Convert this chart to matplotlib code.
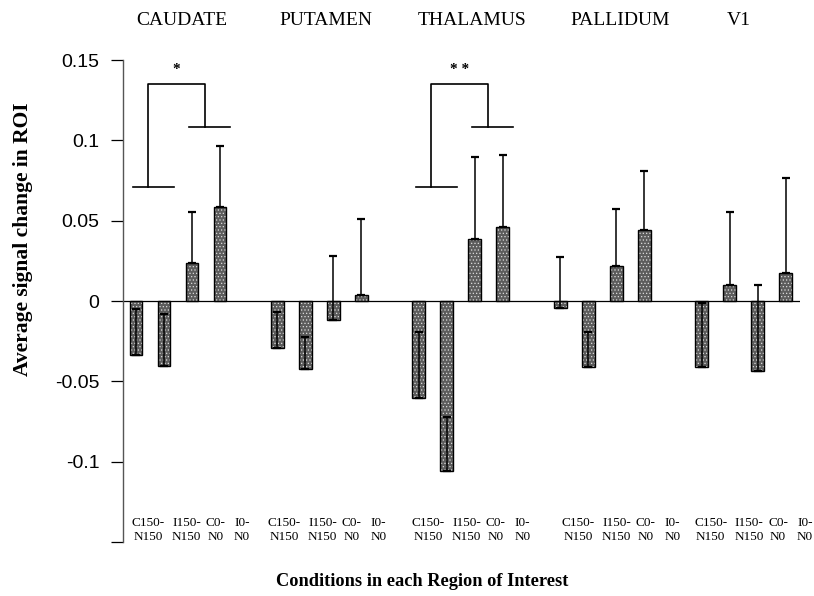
import numpy as np
import matplotlib
matplotlib.use('Agg')
import matplotlib.pyplot as plt
import matplotlib.transforms as mtransforms

# values (mean signal change, one-sided SE shown upward)
regions = ['CAUDATE', 'PUTAMEN', 'THALAMUS', 'PALLIDUM', 'V1']
conditions = ['C150-\nN150', 'I150-\nN150', 'C0-\nN0', 'I0-\nN0']

caudateMean  = [-0.0336, -0.0402, 0.0238, 0.0588]
putamenMean  = [-0.0293, -0.0423, -0.0120, 0.0037]
thalamusMean = [-0.0602, -0.1057, 0.0386, 0.0458]
pallidumMean = [-0.0041, -0.0408, 0.0221, 0.0440]
v1Mean       = [-0.0413, 0.0099, -0.0437, 0.0176]

caudateErr  = [0.0285, 0.0320, 0.0319, 0.0378]
putamenErr  = [0.0227, 0.0200, 0.0403, 0.0473]
thalamusErr = [0.0412, 0.0335, 0.0508, 0.0450]
pallidumErr = [0.0316, 0.0212, 0.0353, 0.0369]
v1Err       = [0.0400, 0.0452, 0.0536, 0.0588]

# significance brackets: region index, low arm, high arm, top, label
sigRegions = [0, 2]
sigLabels  = ['*', '* *']
sigLow, sigHigh, sigTop = 0.071, 0.108, 0.135

yTicks = [-0.15, -0.1, -0.05, 0, 0.05, 0.1, 0.15]
yTickLabels = ['', '-0.1', '-0.05', '0', '0.05', '0.1', '0.15']

allMeans = [caudateMean, putamenMean, thalamusMean, pallidumMean, v1Mean]
allErrs  = [caudateErr, putamenErr, thalamusErr, pallidumErr, v1Err]

serif = 'Liberation Serif'
sans = 'Liberation Sans'
plt.rcParams['hatch.linewidth'] = 0.5

fig = plt.figure(figsize=(8.14, 5.96), dpi=100)
ax = fig.add_axes([0.1511, 0.0906, 0.8317, 0.8087])

groupStep = 5.05
groupBase = np.arange(len(regions)) * groupStep
slot = np.arange(len(conditions))

for g, (means, errs) in enumerate(zip(allMeans, allErrs)):
    xPos = groupBase[g] + slot
    # stippled fill (light dots on dark grey), then a black outline on top
    ax.bar(xPos, means, width=0.46, color='#5c5c5c', edgecolor='#dcdcdc',
           hatch='.....', linewidth=0, zorder=2)
    ax.bar(xPos, means, width=0.46, color='none', edgecolor='black',
           linewidth=1.0, zorder=2.5)
    ax.errorbar(xPos, means, yerr=[np.zeros(len(errs)), errs], fmt='none',
                ecolor='black', elinewidth=1.1, capsize=3, capthick=1.6, zorder=3)

ax.axhline(0, color='black', lw=0.9, zorder=1)

# brackets over the significant comparisons
for g, lab in zip(sigRegions, sigLabels):
    b = groupBase[g]
    ax.plot([b - 0.11, b + 1.36], [sigLow, sigLow], color='black', lw=1.2)
    ax.plot([b + 1.9, b + 3.36], [sigHigh, sigHigh], color='black', lw=1.2)
    ax.plot([b + 0.44, b + 0.44, b + 2.48, b + 2.48],
            [sigLow, sigTop, sigTop, sigHigh], color='black', lw=1.2)
    ax.text(b + 1.44, sigTop + 0.005, lab, ha='center', va='bottom',
            fontsize=11, fontweight='bold', family=serif)

ax.set_xlim(-0.464, 23.71)
ax.set_ylim(-0.15, 0.15)
ax.set_xticks([])
ax.set_yticks(yTicks)
ax.set_yticklabels(yTickLabels, family=sans, fontsize=14)
ax.tick_params(axis='y', direction='out', length=9, width=0.9, pad=8)
for side in ['top', 'right', 'bottom']:
    ax.spines[side].set_visible(False)
ax.spines['left'].set_color('#555555')
ax.spines['left'].set_linewidth(1.0)

# region names above the plot and condition names near the bottom
trans = mtransforms.blended_transform_factory(ax.transData, ax.transAxes)
titleShift = [1.64, 1.74, 1.90, 2.12, 1.34]
labelShift = [0.43, 0.25, 0.34, 0.64, 0.32]
labelOffsets = [0.0, 1.37, 2.41, 3.36]
for g, name in enumerate(regions):
    ax.text(groupBase[g] + titleShift[g], 1.083, name, transform=trans,
            ha='center', va='center', fontsize=14, family=serif)
    for i, cond in enumerate(conditions):
        ax.text(groupBase[g] + labelShift[g] + labelOffsets[i], -0.1425, cond,
                ha='center', va='center', fontsize=9.5, family=serif, linespacing=1.2)

fig.text(422 / 814, 1 - 582 / 596, 'Conditions in each Region of Interest',
         ha='center', va='center', fontsize=13.2, fontweight='bold', family=serif)
fig.text(23 / 814, 1 - 239 / 596, 'Average signal change in ROI', rotation=90,
         ha='center', va='center', fontsize=15.5, fontweight='bold', family=serif)

fig.savefig('out.png', dpi=100)
plt.close(fig)
